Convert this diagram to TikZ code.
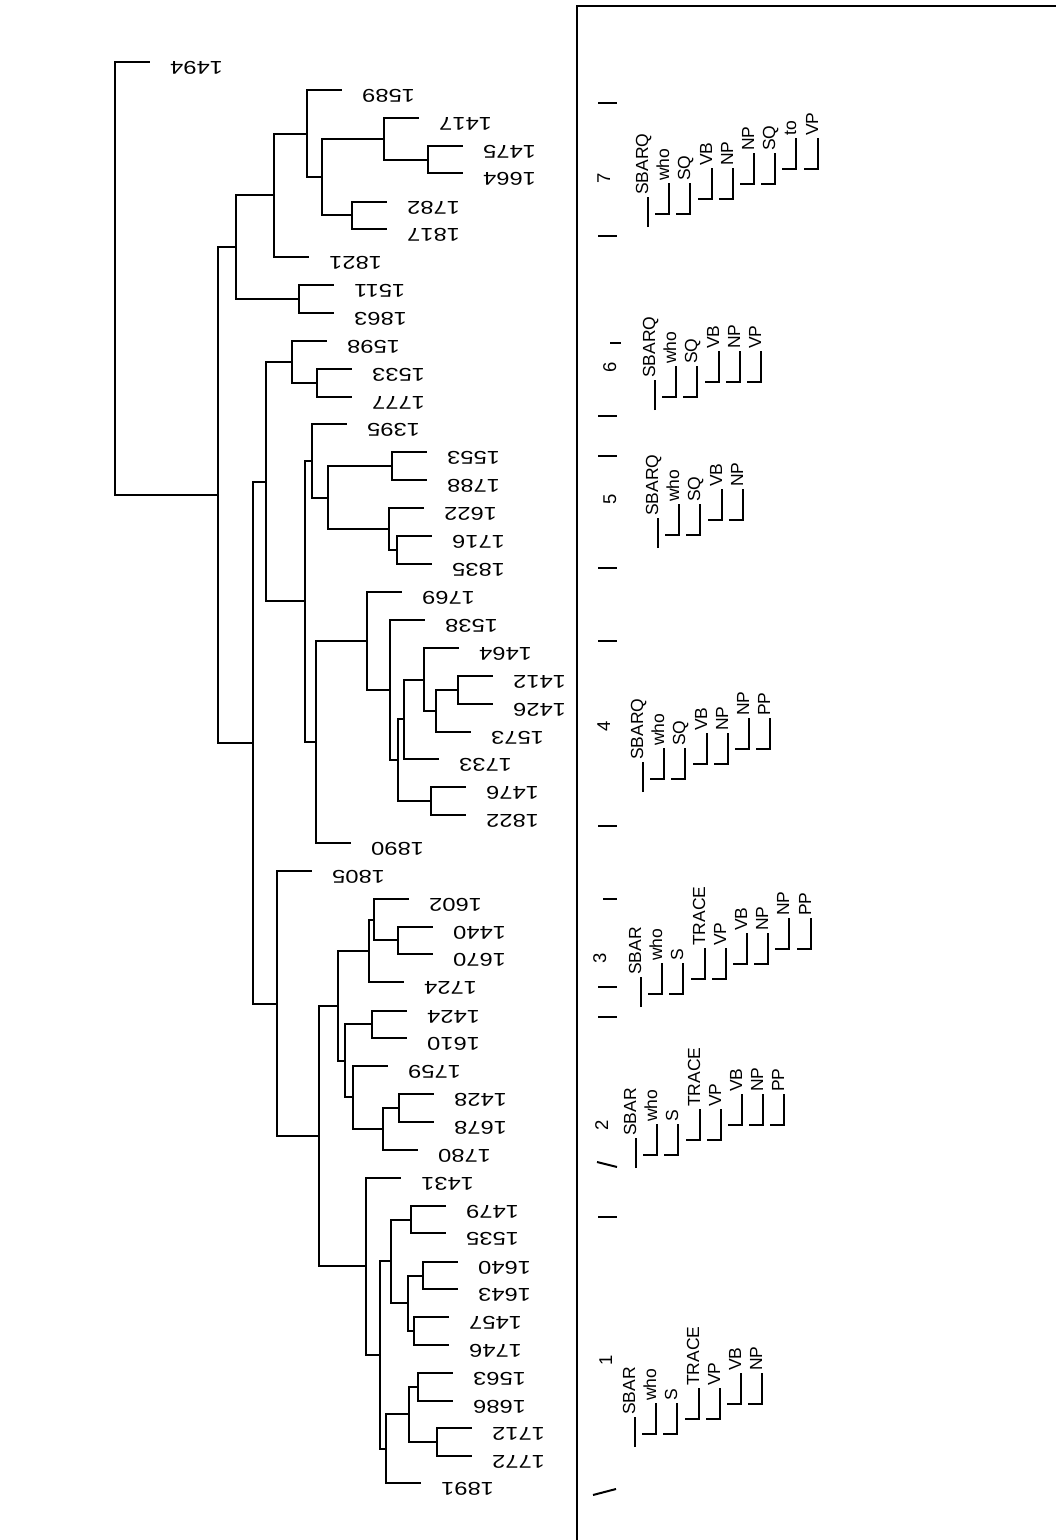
\documentclass[tikz,border=0pt]{standalone}
\usepackage{fontspec}
\setmainfont{Liberation Sans}

% one rotated parse tree: name, x of first column, y of its foot, level/tag list
\newcommand{\parsetree}[4]{%
  \foreach \lv/\tag [count=\i from 0] in {#4} {
    \pgfmathsetmacro{\cx}{round(#2+21.2*\i)}
    \ifnum\lv=0
      \draw[glyph] (\cx,#3) -- (\cx,#3-30);
      \node[taglbl] (#1-\i) at (\cx,#3-32) {\tag};
    \else
      \pgfmathsetmacro{\by}{#3-13-15*(\lv-1)}
      \draw[glyph] (\cx-14,\by) -- (\cx,\by) -- (\cx,\by-31);
      \node[taglbl] (#1-\i) at (\cx,\by-33) {\tag};
    \fi
  }}

\begin{document}
\begin{tikzpicture}[
  x=1pt, y=-1pt,
  branch/.style={line width=2pt},
  leaflbl/.style={rotate=180, xscale=1.28, anchor=base east, inner sep=0pt,
                  font=\fontsize{18.5}{20}\selectfont},
  taglbl/.style={rotate=90, anchor=base west, inner sep=0pt,
                 font=\fontsize{17.5}{20}\selectfont},
  numlbl/.style={rotate=90, anchor=base, inner sep=0pt,
                 font=\fontsize{18.5}{20}\selectfont},
  glyph/.style={line width=1.5pt},
  tick/.style={line width=2pt},
  frame/.style={line width=2pt}
]
\useasboundingbox (0,0) rectangle (1056,1540);

% leaves of the dendrogram
\foreach \nm/\x/\y in {1494/150/62, 1589/342/90, 1417/419/118, 1475/463/146,
    1664/463/173, 1782/387/202, 1817/387/229, 1821/309/257, 1511/334/285,
    1863/334/313, 1598/327/341, 1533/352/369, 1777/352/397, 1395/347/424,
    1553/427/452, 1788/427/480, 1622/424/508, 1716/432/536, 1835/432/564,
    1769/402/592, 1538/425/620, 1464/459/648, 1412/493/676, 1426/493/704,
    1573/471/732, 1733/439/759, 1476/466/787, 1822/466/815, 1890/351/843,
    1805/312/871, 1602/409/899, 1440/433/927, 1670/433/954, 1724/404/982,
    1424/407/1011, 1610/407/1038, 1759/388/1066, 1428/434/1094,
    1678/434/1122, 1780/418/1150, 1431/401/1178, 1479/446/1206,
    1535/446/1233, 1640/458/1262, 1643/458/1289, 1457/449/1317,
    1746/449/1345, 1563/453/1373, 1686/453/1401, 1712/472/1428,
    1772/472/1456, 1891/421/1483} {
  \coordinate (l\nm) at (\x,\y);
  \node[leaflbl] (lab\nm) at (\x+20,\y-1) {\nm};
}

% joins
\foreach \nm/\x/\y in {root/115/279, a/218/495, b/236/247, d/274/195,
    f/307/134, g/322/177, h/384/139, m/428/160, k/352/215,
    n/299/299, c/253/743, s/266/482, u/292/362, w/317/383,
    v/305/601, x1/312/461, z/328/498, aa/392/466, bb/389/529,
    cc/397/550, y1/316/742, dd/367/641, ee/390/690, ff/398/760,
    gg/404/719, ii/424/680, jj/436/711, kk/458/690, hh/431/801,
    t/277/1004, ll/319/1136, mm/338/1006, oo/369/951, qq/374/920,
    rr/398/940, pp/345/1061, ss/372/1024, tt/353/1097, uu/383/1129,
    vv/399/1108, nn/366/1266, ww/380/1355, xx/391/1261, zz/411/1220,
    ab/408/1303, ac/423/1276, ad/414/1331, yy/386/1449,
    ae/409/1414, af/418/1387, ag/437/1442}
  \coordinate (\nm) at (\x,\y);

\foreach \p/\c in {root/l1494, root/a, a/b, a/c, b/d, b/n, d/f, d/l1821,
    f/l1589, f/g, g/h, g/k, h/l1417, h/m, m/l1475, m/l1664, k/l1782,
    k/l1817, n/l1511, n/l1863, c/s, c/t, s/u, s/v, u/l1598, u/w,
    w/l1533, w/l1777, v/x1, v/y1, x1/l1395, x1/z, z/aa, z/bb, aa/l1553,
    aa/l1788, bb/l1622, bb/cc, cc/l1716, cc/l1835, y1/dd, y1/l1890,
    dd/l1769, dd/ee, ee/l1538, ee/ff, ff/gg, ff/hh, gg/ii, gg/l1733,
    ii/l1464, ii/jj, jj/kk, jj/l1573, kk/l1412, kk/l1426, hh/l1476,
    hh/l1822, t/l1805, t/ll, ll/mm, ll/nn, mm/oo, mm/pp, oo/qq, oo/l1724,
    qq/l1602, qq/rr, rr/l1440, rr/l1670, pp/ss, pp/tt, ss/l1424,
    ss/l1610, tt/l1759, tt/uu, uu/vv, uu/l1780, vv/l1428, vv/l1678,
    nn/l1431, nn/ww, ww/xx, ww/yy, xx/zz, xx/ab, zz/l1479, zz/l1535,
    ab/ac, ab/ad, ac/l1640, ac/l1643, ad/l1457, ad/l1746, yy/ae,
    yy/l1891, ae/af, ae/ag, af/l1563, af/l1686, ag/l1712, ag/l1772}
  \draw[branch] (\p) |- (\c);

% right panel
\draw[frame] (1056,6) -- (577,6) -- (577,1540);

\foreach \y in {103, 236, 416, 456, 568, 641, 826, 987, 1017, 1217}
  \draw[tick] (598,\y) -- (617,\y);
\draw[tick] (610,343) -- (621,343);
\draw[tick] (603,899) -- (617,899);
\draw[tick] (597,1162) -- (617,1167);
\draw[tick] (593,1495) -- (616,1489);

\node[numlbl] (n7) at (610,178) {7};
\node[numlbl] (n6) at (616,367) {6};
\node[numlbl] (n5) at (616,499) {5};
\node[numlbl] (n4) at (610,726) {4};
\node[numlbl] (n3) at (606,958) {3};
\node[numlbl] (n2) at (608,1125) {2};
\node[numlbl] (n1) at (612,1360) {1};

\parsetree{p7}{648}{227}{0/SBARQ,1/who,1/SQ,2/VB,2/NP,3/NP,3/SQ,4/to,4/VP}
\parsetree{p6}{655}{410}{0/SBARQ,1/who,1/SQ,2/VB,2/NP,2/VP}
\parsetree{p5}{658}{548}{0/SBARQ,1/who,1/SQ,2/VB,2/NP}
\parsetree{p4}{643}{792}{0/SBARQ,1/who,1/SQ,2/VB,2/NP,3/NP,3/PP}
\parsetree{p3}{641}{1007}{0/SBAR,1/who,1/S,2/TRACE,2/VP,3/VB,3/NP,4/NP,4/PP}
\parsetree{p2}{636}{1168}{0/SBAR,1/who,1/S,2/TRACE,2/VP,3/VB,3/NP,3/PP}
\parsetree{p1}{635}{1447}{0/SBAR,1/who,1/S,2/TRACE,2/VP,3/VB,3/NP}
\end{tikzpicture}
\end{document}
